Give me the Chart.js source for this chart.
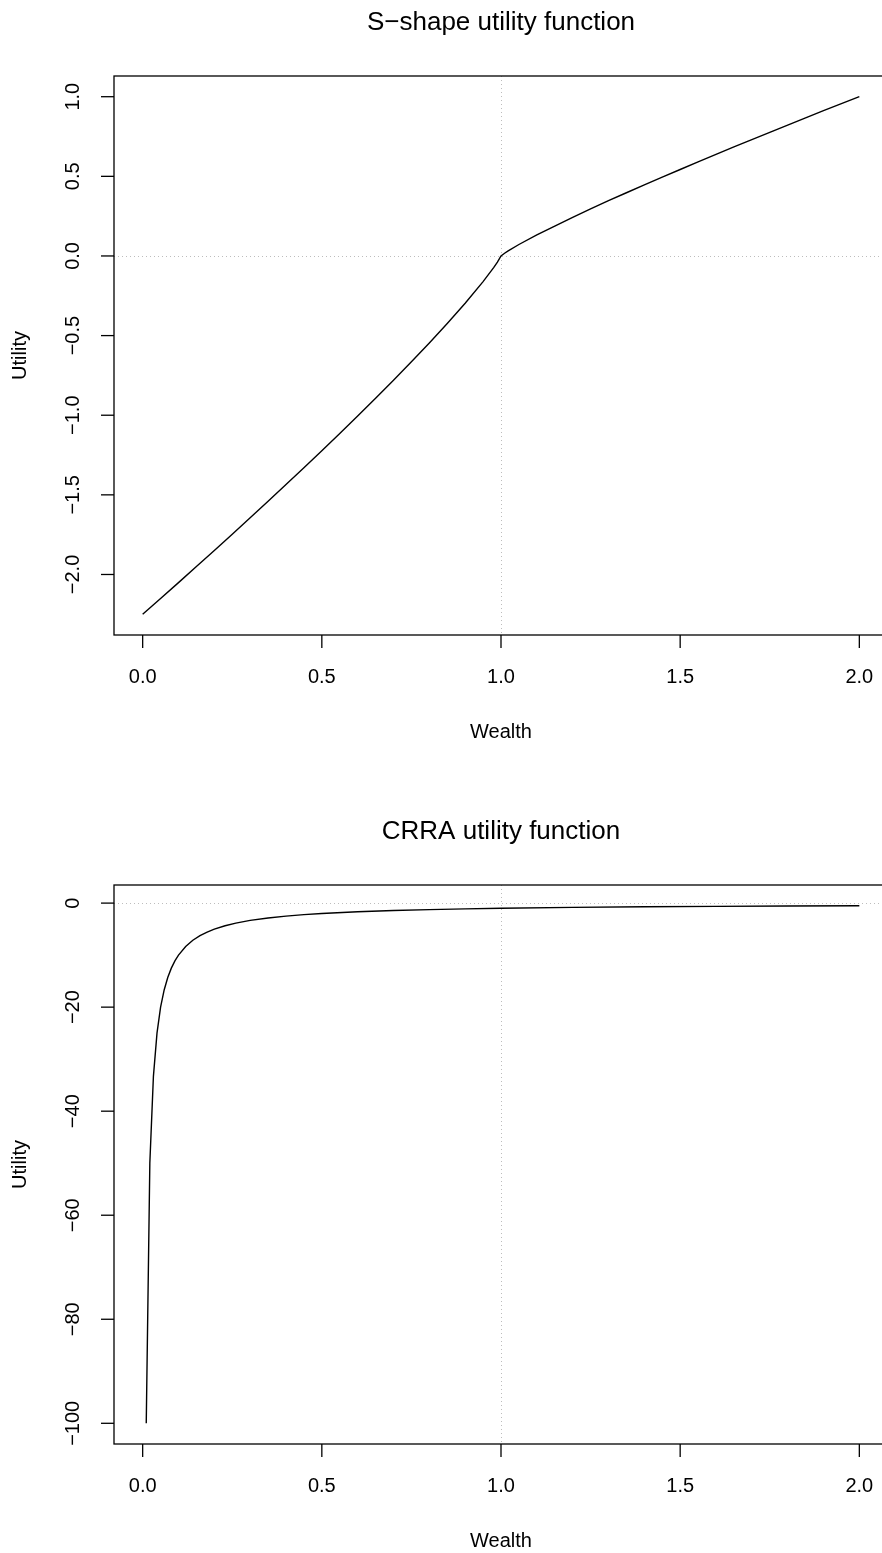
<!DOCTYPE html>
<html lang="en">
<head>
<meta charset="UTF-8">
<title>Utility functions</title>
<style>
    body { margin: 0; background: #fff; overflow: hidden; }
    .page { position: relative; width: 882px; height: 1553px; overflow: hidden; background: #fff; }
    canvas { position: absolute; left: 0; }
    #sChart { top: 0; }
    #crraChart { top: 809px; }
</style>
</head>
<body>
<div class="page">
    <canvas id="sChart" width="888" height="744"></canvas>
    <canvas id="crraChart" width="888" height="744"></canvas>
</div>
<script src="https://cdn.jsdelivr.net/npm/chart.js"></script>
<script>
    // S-shape (prospect theory style) curve
    const sWealth = [0, 0.05, 0.1, 0.15, 0.2, 0.25, 0.3, 0.35, 0.4, 0.45, 0.5, 0.55, 0.6, 0.65, 0.7, 0.75, 0.8, 0.85, 0.9, 0.95, 0.98, 0.99,
        1, 1.01, 1.02, 1.05, 1.1, 1.15, 1.2, 1.25, 1.3, 1.35, 1.4, 1.45, 1.5, 1.55, 1.6, 1.65, 1.7, 1.75, 1.8, 1.85, 1.9, 1.95, 2];
    const sUtility = [-2.25, -2.151, -2.051, -1.950, -1.849, -1.747, -1.644, -1.540, -1.435, -1.330, -1.223, -1.114, -1.005, -0.893, -0.780, -0.664, -0.546, -0.424, -0.297, -0.161, -0.072, -0.039,
        0, 0.017, 0.032, 0.072, 0.132, 0.188, 0.243, 0.295, 0.347, 0.397, 0.447, 0.495, 0.543, 0.591, 0.638, 0.685, 0.731, 0.776, 0.822, 0.867, 0.912, 0.956, 1.0];

    // CRRA curve, bottom panel
    const crraWealth = [0.01, 0.02, 0.03, 0.04, 0.05, 0.06, 0.07, 0.08, 0.09, 0.1, 0.12, 0.14, 0.16, 0.18, 0.2, 0.23, 0.26, 0.3, 0.35, 0.4, 0.45, 0.5,
        0.6, 0.7, 0.8, 0.9, 1.0, 1.2, 1.4, 1.6, 1.8, 2.0];
    const crraUtility = [-100, -50, -33.3, -25, -20, -16.7, -14.3, -12.5, -11.1, -10, -8.33, -7.14, -6.25, -5.56, -5, -4.35, -3.85, -3.33, -2.86, -2.5, -2.22, -2,
        -1.67, -1.43, -1.25, -1.11, -1, -0.83, -0.71, -0.63, -0.56, -0.5];

    // axis ticks
    const xTicks = [0, 0.5, 1, 1.5, 2];
    const xTickLabels = ['0.0', '0.5', '1.0', '1.5', '2.0'];
    const sYTicks = [1, 0.5, 0, -0.5, -1, -1.5, -2];
    const sYTickLabels = ['1.0', '0.5', '0.0', '\u22120.5', '\u22121.0', '\u22121.5', '\u22122.0'];
    const crraYTicks = [0, -20, -40, -60, -80, -100];
    const crraYTickLabels = ['0', '\u221220', '\u221240', '\u221260', '\u221280', '\u2212100'];

    const FONT = '"Liberation Sans", Arial, Helvetica, sans-serif';

    // draws the R-style frame, ticks, labels and the dotted reference lines
    const basePlotPlugin = {
        id: 'basePlot',
        beforeDatasetsDraw(chart) {
            const ctx = chart.ctx;
            const area = chart.chartArea;
            const xs = chart.scales.x, ys = chart.scales.y;
            ctx.save();
            ctx.strokeStyle = '#bdbdbd';
            ctx.lineWidth = 1;
            ctx.setLineDash([1, 3]);
            const x1 = Math.round(xs.getPixelForValue(1)) + 0.5;
            const y0 = Math.round(ys.getPixelForValue(0)) + 0.5;
            ctx.beginPath();
            ctx.moveTo(x1, area.top);
            ctx.lineTo(x1, area.bottom);
            ctx.moveTo(area.left, y0);
            ctx.lineTo(area.right, y0);
            ctx.stroke();
            ctx.restore();
        },
        afterDraw(chart) {
            const ctx = chart.ctx;
            const area = chart.chartArea;
            const opts = chart.options.plugins.basePlot;
            const xs = chart.scales.x, ys = chart.scales.y;
            ctx.save();
            ctx.strokeStyle = '#000';
            ctx.fillStyle = '#000';
            ctx.lineWidth = 1.3;
            ctx.strokeRect(area.left, area.top, area.right - area.left, area.bottom - area.top);

            // x axis
            ctx.font = '20px ' + FONT;
            ctx.textAlign = 'center';
            ctx.textBaseline = 'middle';
            xTicks.forEach((v, i) => {
                const px = xs.getPixelForValue(v);
                ctx.beginPath();
                ctx.moveTo(px, area.bottom);
                ctx.lineTo(px, area.bottom + 13);
                ctx.stroke();
                ctx.fillText(xTickLabels[i], px, area.bottom + 42);
            });

            // y axis, labels rotated like R's las = 0
            opts.yTicks.forEach((v, i) => {
                const py = ys.getPixelForValue(v);
                ctx.beginPath();
                ctx.moveTo(area.left, py);
                ctx.lineTo(area.left - 13, py);
                ctx.stroke();
                ctx.save();
                ctx.translate(area.left - 41, py);
                ctx.rotate(-Math.PI / 2);
                ctx.fillText(opts.yTickLabels[i], 0, 0);
                ctx.restore();
            });

            // titles
            ctx.fillText('Wealth', xs.getPixelForValue(1), area.bottom + 97);
            ctx.save();
            ctx.translate(20, (area.top + area.bottom) / 2);
            ctx.rotate(-Math.PI / 2);
            ctx.fillText('Utility', 0, 0);
            ctx.restore();
            ctx.font = '26px ' + FONT;
            ctx.fillText(opts.title, xs.getPixelForValue(1), 23);
            ctx.restore();
        }
    };

    function makeChart(id, wx, wy, yMin, yMax, yTicks, yTickLabels, title) {
        const points = wx.map((x, i) => ({ x: x, y: wy[i] }));
        return new Chart(document.getElementById(id), {
            type: 'line',
            data: {
                datasets: [{
                    data: points,
                    borderColor: '#000',
                    borderWidth: 1.4,
                    pointRadius: 0,
                    tension: 0,
                    fill: false
                }]
            },
            options: {
                responsive: false,
                animation: false,
                layout: { padding: { left: 114, top: 76, right: 0, bottom: 109 } },
                scales: {
                    x: { type: 'linear', min: -0.08, max: 2.08, display: false },
                    y: { type: 'linear', min: yMin, max: yMax, display: false }
                },
                plugins: {
                    legend: { display: false },
                    tooltip: { enabled: false },
                    basePlot: { yTicks: yTicks, yTickLabels: yTickLabels, title: title }
                }
            },
            plugins: [basePlotPlugin]
        });
    }

    makeChart('sChart', sWealth, sUtility, -2.38, 1.13, sYTicks, sYTickLabels, 'S\u2212shape utility function');
    makeChart('crraChart', crraWealth, crraUtility, -103.98, 3.48, crraYTicks, crraYTickLabels, 'CRRA utility function');
</script>
</body>
</html>
